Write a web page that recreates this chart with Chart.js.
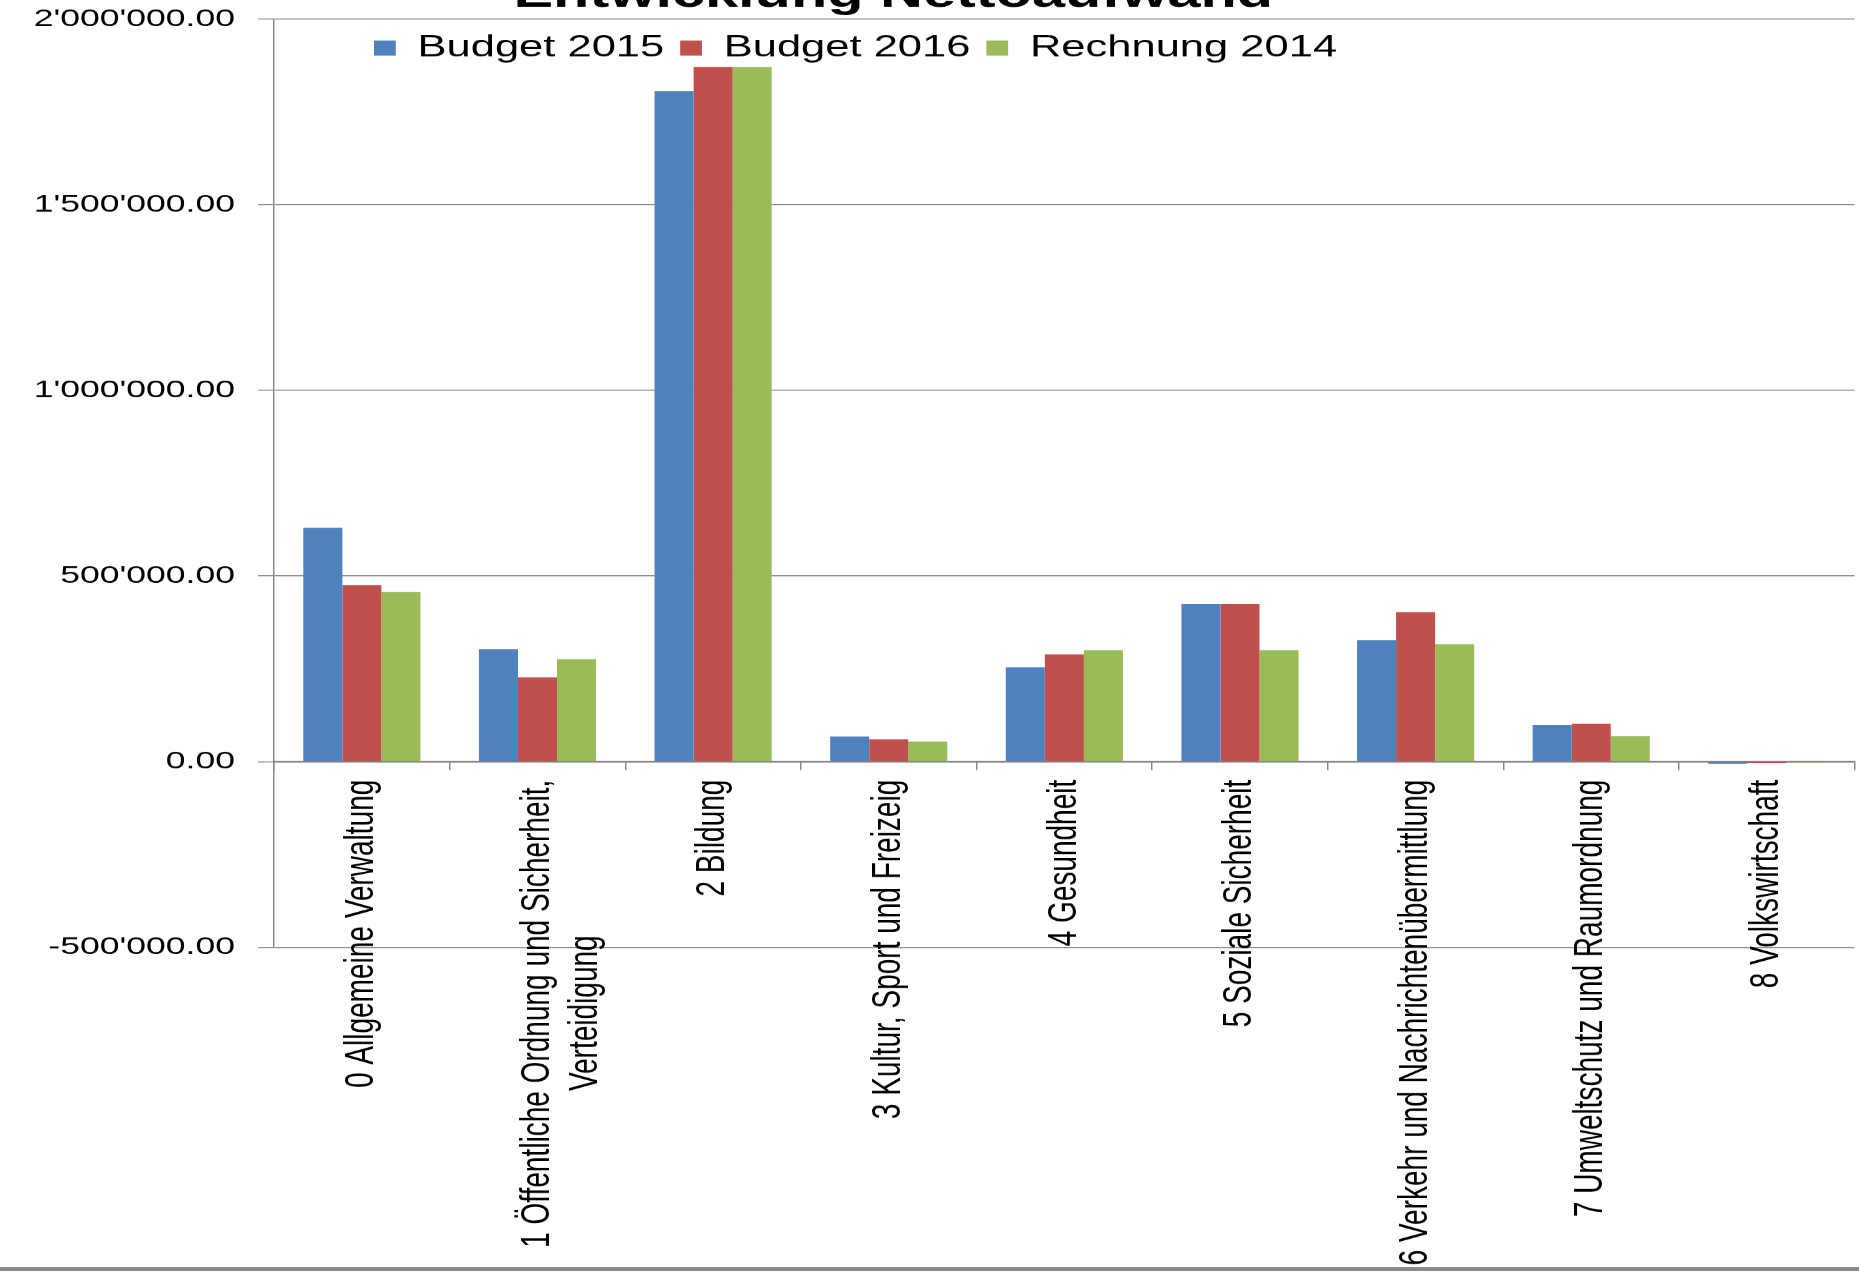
<!DOCTYPE html>
<html>
<head>
<meta charset="utf-8">
<script src="https://cdn.jsdelivr.net/npm/chart.js@4.4.1/dist/chart.umd.min.js"></script>
<style>
  html, body { margin: 0; padding: 0; background: #fff; overflow: hidden; }
  #frame { position: relative; width: 1859px; height: 1267px; border-bottom: 4px solid #8a8a8a; overflow: hidden; }
</style>
</head>
<body>
<div id="frame">
  <canvas id="c" width="1282" height="1299" style="position:absolute;left:0;top:-25px;width:1859px;height:1299px"></canvas>
</div>
<script>
// Chart data
const categories = [
    '0 Allgemeine Verwaltung',
    ['1 Öffentliche Ordnung und Sicherheit,', 'Verteidigung'],
    '2 Bildung',
    '3 Kultur, Sport und Freizeig',
    '4 Gesundheit',
    '5 Soziale Sicherheit',
    '6 Verkehr und Nachrichtenübermittlung',
    '7 Umweltschutz und Raumordnung',
    '8 Volkswirtschaft'
];
const budget2015 = [630000, 303000, 1806000, 68000, 254000, 424000, 327000, 99000, -6000];
const budget2016 = [476000, 227000, 1871000, 60000, 289000, 424000, 403000, 102000, -3000];
const rechnung2014 = [457000, 276000, 1871000, 54000, 300000, 300000, 316000, 69000, -2500];
const yTicks = [-500000, 0, 500000, 1000000, 1500000, 2000000];

// the original picture is stretched sideways, so the canvas is drawn narrow and widened by css
const STRETCH = 1859 / 1282;
const FONT = '"Liberation Sans", Arial, sans-serif';
const GRID = '#868686';

// 2'000'000.00 style
function swiss(v) {
    const parts = Math.abs(v).toFixed(2).split('.');
    return (v < 0 ? '-' : '') + parts[0].replace(/\B(?=(\d{3})+(?!\d))/g, "'") + '.' + parts[1];
}

// centre the lines of a wrapped label (chart.js right-aligns rotated lines)
const measure = document.createElement('canvas').getContext('2d');
measure.font = '28px ' + FONT;
function centerLines(label) {
    if (!Array.isArray(label)) return label;
    const widths = label.map(s => measure.measureText(s).width);
    const widest = Math.max(...widths);
    const space = measure.measureText(' ').width;
    return label.map((s, i) => s + ' '.repeat(Math.round((widest - widths[i]) / 2 / space)));
}

// title and legend sit off-centre in the original, and the legend overlaps the plot
const TITLE_CENTER = 616;
const LEGEND_CENTER = 590;
const placeBoxes = {
    id: 'placeBoxes',
    afterLayout(chart) {
        const move = (box, cx) => {
            const d = cx - (box.left + box.right) / 2;
            box.left += d;
            box.right += d;
        };
        move(chart.titleBlock, TITLE_CENTER);
        const lg = chart.legend;
        move(lg, LEGEND_CENTER);
        lg.top = chart.chartArea.top + 3;
        lg.bottom = lg.top + 60;
    }
};

Chart.defaults.color = '#000';
Chart.defaults.font.family = FONT;

const ctx = document.getElementById('c').getContext('2d');
new Chart(ctx, {
    type: 'bar',
    data: {
        labels: categories,
        datasets: [
            {
                label: 'Budget 2015',
                data: budget2015,
                backgroundColor: '#4F81BD'
            },
            {
                label: 'Budget 2016',
                data: budget2016,
                backgroundColor: '#C0504D'
            },
            {
                label: 'Rechnung 2014',
                data: rechnung2014,
                backgroundColor: '#9BBB59'
            }
        ]
    },
    options: {
        responsive: false,
        animation: false,
        devicePixelRatio: STRETCH,
        categoryPercentage: 0.667,
        barPercentage: 1.0,
        layout: {
            padding: { left: 0, right: 3, top: 0, bottom: 327 }
        },
        plugins: {
            title: {
                display: true,
                text: 'Entwicklung Nettoaufwand',
                color: '#000',
                font: { size: 41, weight: 'bold', lineHeight: 1 },
                padding: { top: 0, bottom: 2 }
            },
            legend: {
                position: 'top',
                align: 'center',
                maxHeight: 1,
                labels: {
                    boxWidth: 15,
                    boxHeight: 15,
                    padding: 11,
                    color: '#000',
                    font: { size: 30 }
                }
            },
            tooltip: { enabled: false }
        },
        scales: {
            x: {
                position: { y: 0 },
                grid: {
                    drawOnChartArea: false,
                    drawTicks: true,
                    tickLength: 8,
                    color: GRID,
                    lineWidth: 1
                },
                border: { color: GRID, width: 1.5 },
                ticks: {
                    autoSkip: false,
                    minRotation: 90,
                    maxRotation: 90,
                    padding: 10,
                    color: '#000',
                    font: { size: 28 },
                    callback: function (value, index) {
                        return centerLines(categories[index]);
                    }
                }
            },
            y: {
                min: -500000,
                max: 2000000,
                afterFit: function (scale) { scale.width = 189; },
                afterBuildTicks: function (scale) {
                    scale.ticks = yTicks.map(v => ({ value: v }));
                },
                grid: {
                    color: GRID,
                    lineWidth: 1,
                    drawTicks: true,
                    tickLength: 11
                },
                border: { color: GRID, width: 1 },
                ticks: {
                    padding: 16,
                    color: '#000',
                    font: { size: 24.5 },
                    callback: function (value) { return swiss(value); }
                }
            }
        }
    },
    plugins: [placeBoxes]
});
</script>
</body>
</html>
